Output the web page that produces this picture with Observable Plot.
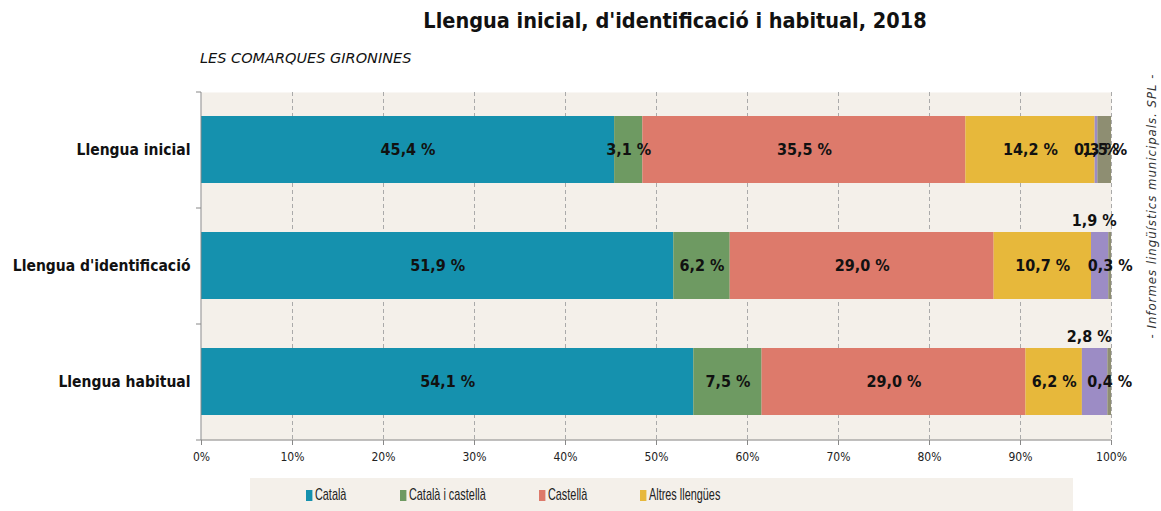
<!DOCTYPE html>
<html>
<head>
<meta charset="utf-8">
<script src="https://cdn.jsdelivr.net/npm/d3@7"></script>
<script src="https://cdn.jsdelivr.net/npm/@observablehq/plot@0.6"></script>
<style>
  body { margin: 0; background: #fff; }
  #wrap { position: relative; width: 1161px; height: 511px; overflow: hidden; font-family: "DejaVu Sans Condensed", "DejaVu Sans", sans-serif; font-stretch: condensed; }
  #title { position: absolute; top: 8px; left: 0; width: 1350px; text-align: center; font-size: 21.5px; font-weight: bold; color: #111; }
  #subtitle { position: absolute; top: 50px; left: 200px; font-family: "DejaVu Sans", sans-serif; font-stretch: normal; font-size: 14.5px; font-style: italic; color: #111; }
  #caption { position: absolute; left: 1151px; top: 206px; transform: translate(-50%, -50%) rotate(-90deg); white-space: nowrap; font-size: 13px; letter-spacing: 1px; font-style: italic; color: #333; }
  #chart { position: absolute; top: 0; left: 0; }
  #legend { position: absolute; top: 478px; left: 250px; width: 823px; height: 33px; background: #F4F0EA; font-family: "Liberation Sans", sans-serif; font-stretch: normal; font-size: 17px; color: #222; }
  .item { position: absolute; top: 7px; white-space: nowrap; transform: scaleX(0.64); transform-origin: left center; }
  .sw { display: inline-block; width: 10px; height: 11px; margin-right: 4px; vertical-align: -1px; }
</style>
</head>
<body>
<div id="wrap">
  <div id="chart"></div>
  <div id="title">Llengua inicial, d'identificació i habitual, 2018</div>
  <div id="subtitle">LES COMARQUES GIRONINES</div>
  <div id="caption">- Informes lingüístics municipals. SPL -</div>
  <div id="legend"></div>
</div>
<script>
const categories = ["Llengua inicial", "Llengua d'identificació", "Llengua habitual"];
const series = ["Català", "Català i castellà", "Castellà", "Altres llengües", "Altres combinacions", "No consta"];
const legendSeries = ["Català", "Català i castellà", "Castellà", "Altres llengües"];
const colors = ["#1591AE", "#6E9A62", "#DD7A6B", "#E7B83B", "#9C8CC5", "#8E8E72"];
const catala = [45.4, 51.9, 54.1];
const catalaCastella = [3.1, 6.2, 7.5];
const castella = [35.5, 29.0, 29.0];
const altresLlengues = [14.2, 10.7, 6.2];
const altresCombinacions = [0.3, 1.9, 2.8];
const noConsta = [1.5, 0.3, 0.4];
const xTicks = [0, 10, 20, 30, 40, 50, 60, 70, 80, 90, 100];

const valuesBySeries = [catala, catalaCastella, castella, altresLlengues, altresCombinacions, noConsta];
const data = [];
categories.forEach((c, i) => {
  series.forEach((s, j) => data.push({category: c, series: s, value: valuesBySeries[j][i]}));
});
const fmt = v => v.toFixed(1).replace(".", ",") + " %";
const above = d => d.series === "Altres combinacions" && d.value >= 1;

const W = 1161, H = 470;
const mL = 201, mR = 50, mT = 92, mB = 30;
const FONT = "DejaVu Sans Condensed, DejaVu Sans, sans-serif";

const axesMark = (index, scales, values, dim) => {
  const g = d3.create("svg:g");
  const x0 = dim.marginLeft, yb = dim.height - dim.marginBottom, yt = dim.marginTop;
  g.append("line").attr("x1", x0).attr("x2", x0).attr("y1", yt).attr("y2", yb).attr("stroke", "#888");
  g.append("line").attr("x1", x0).attr("x2", dim.width - dim.marginRight).attr("y1", yb).attr("y2", yb).attr("stroke", "#888");
  const step = (yb - yt) / categories.length;
  for (let k = 0; k <= categories.length; k++) {
    const yy = yt + k * step;
    g.append("line").attr("x1", x0 - 5).attr("x2", x0).attr("y1", yy).attr("y2", yy).attr("stroke", "#888");
  }
  return g.node();
};

const plot = Plot.plot({
  width: W, height: H,
  marginLeft: mL, marginRight: mR, marginTop: mT, marginBottom: mB,
  style: {fontFamily: FONT, fontStretch: "condensed", background: "transparent"},
  x: {domain: [0, 100], label: null},
  y: {domain: categories, label: null, paddingInner: 0.42, paddingOuter: 0.21},
  color: {domain: series, range: colors},
  marks: [
    Plot.frame({fill: "#F4F0EA", stroke: null}),
    Plot.gridX(xTicks.slice(1), {stroke: "#aaa", strokeOpacity: 1, strokeDasharray: "4,3"}),
    Plot.barX(data, Plot.stackX({x: "value", y: "category", fill: "series", order: series})),
    Plot.text(data, Plot.stackX({x: "value", y: "category", z: "series", order: series,
      text: d => above(d) ? "" : fmt(d.value), fontSize: 16, fontWeight: "bold", fill: "#111",
      fontFamily: "DejaVu Sans, sans-serif"})),
    Plot.text(data, Plot.stackX({x: "value", y: "category", z: "series", order: series,
      text: d => above(d) ? fmt(d.value) : "", dy: -45, dx: -6, fontSize: 16, fontWeight: "bold", fill: "#111",
      fontFamily: "DejaVu Sans, sans-serif"})),
    axesMark,
    Plot.axisX({ticks: xTicks, tickFormat: d => d + "%", tickSize: 5, tickPadding: 7, stroke: "#888", fontSize: 12, fill: "#222", label: null}),
    Plot.axisY({tickSize: 0, tickPadding: 11, fontSize: 15.5, fontWeight: 600, fill: "#111", label: null})
  ]
});
document.getElementById("chart").appendChild(plot);

const legend = document.getElementById("legend");
const legendX = [56, 150, 289, 390];
legendSeries.forEach((s, i) => {
  const it = document.createElement("div");
  it.className = "item";
  it.style.left = legendX[i] + "px";
  it.innerHTML = `<span class="sw" style="background:${colors[series.indexOf(s)]}"></span>${s}`;
  legend.appendChild(it);
});
</script>
</body>
</html>
